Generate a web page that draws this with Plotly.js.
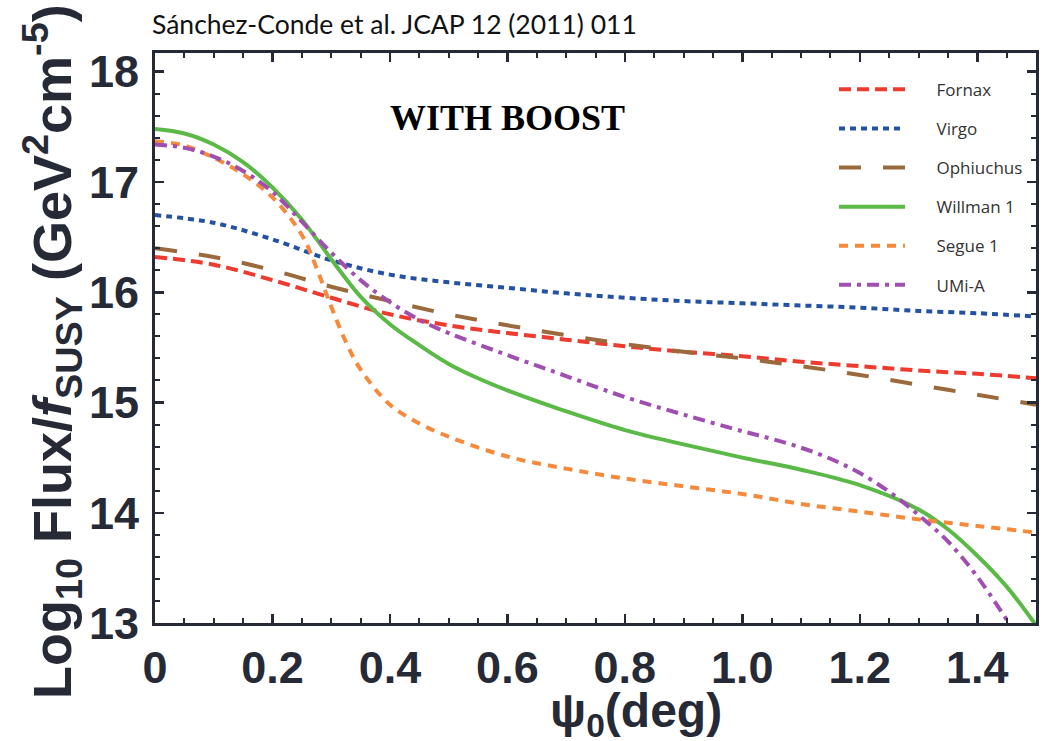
<!DOCTYPE html>
<html>
<head>
<meta charset="utf-8">
<script src="https://cdn.plot.ly/plotly-3.0.1.min.js"></script>
<style>html,body{margin:0;padding:0;background:#fff;}#chart{width:1048px;height:741px;}</style>
</head>
<body>
<div id="chart"></div>
<script>
// ---- data ----
const psiFornax = [0, 0.1, 0.2, 0.3, 0.4, 0.5, 0.6, 0.7, 0.8, 0.9, 1.0, 1.1, 1.2, 1.3, 1.4, 1.5];
const fluxFornax = [16.32, 16.25, 16.11, 15.95, 15.80, 15.70, 15.63, 15.57, 15.51, 15.46, 15.42, 15.37, 15.33, 15.29, 15.26, 15.22];

const psiVirgo = [0, 0.1, 0.2, 0.3, 0.4, 0.5, 0.6, 0.7, 0.8, 0.9, 1.0, 1.1, 1.2, 1.3, 1.4, 1.5];
const fluxVirgo = [16.70, 16.63, 16.48, 16.29, 16.16, 16.09, 16.04, 15.99, 15.95, 15.92, 15.90, 15.88, 15.86, 15.83, 15.81, 15.78];

const psiOphiuchus = [0, 0.1, 0.2, 0.3, 0.4, 0.5, 0.6, 0.7, 0.8, 0.9, 1.0, 1.1, 1.2, 1.3, 1.4, 1.5];
const fluxOphiuchus = [16.40, 16.32, 16.20, 16.05, 15.92, 15.80, 15.70, 15.61, 15.53, 15.46, 15.40, 15.33, 15.25, 15.16, 15.07, 14.98];

const psiWillman = [0, 0.05, 0.1, 0.15, 0.2, 0.25, 0.3, 0.35, 0.4, 0.45, 0.5, 0.55, 0.6, 0.7, 0.8, 0.9, 1.0, 1.1, 1.2, 1.3, 1.35, 1.4, 1.45, 1.5];
const fluxWillman = [17.48, 17.44, 17.34, 17.18, 16.95, 16.66, 16.30, 15.96, 15.71, 15.52, 15.35, 15.22, 15.11, 14.92, 14.75, 14.62, 14.50, 14.39, 14.25, 14.03, 13.85, 13.61, 13.33, 12.98];

const psiSegue = [0, 0.05, 0.1, 0.15, 0.2, 0.25, 0.275, 0.3, 0.325, 0.35, 0.4, 0.45, 0.5, 0.6, 0.7, 0.8, 0.9, 1.0, 1.1, 1.2, 1.3, 1.4, 1.5];
const fluxSegue = [17.37, 17.33, 17.22, 17.07, 16.86, 16.52, 16.22, 15.87, 15.55, 15.30, 14.98, 14.81, 14.69, 14.51, 14.40, 14.31, 14.24, 14.17, 14.08, 14.01, 13.94, 13.88, 13.82];

const psiUMi = [0, 0.05, 0.1, 0.15, 0.2, 0.25, 0.3, 0.35, 0.4, 0.45, 0.5, 0.6, 0.7, 0.8, 0.9, 1.0, 1.05, 1.1, 1.15, 1.2, 1.25, 1.3, 1.35, 1.4, 1.45];
const fluxUMi = [17.34, 17.31, 17.23, 17.10, 16.91, 16.64, 16.36, 16.11, 15.91, 15.75, 15.63, 15.43, 15.24, 15.05, 14.89, 14.74, 14.67, 14.59, 14.49, 14.36, 14.19, 13.98, 13.74, 13.42, 13.03];

const xTickVals = [0, 0.2, 0.4, 0.6, 0.8, 1.0, 1.2, 1.4];
const xTickText = ['0', '0.2', '0.4', '0.6', '0.8', '1.0', '1.2', '1.4'];
const yTickVals = [13, 14, 15, 16, 17, 18];

// ---- styling ----
const ink = '#262a36';
const pad = '\u00a0\u00a0\u00a0\u00a0\u00a0\u00a0';
function tr(name, x, y, color, dash, width) {
  return {
    type: 'scatter', mode: 'lines', name: pad + name, x: x, y: y,
    legendgroup: name,
    line: {color: color, width: width, dash: dash, shape: 'spline', smoothing: 1},
    hoverinfo: 'skip'
  };
}
const data = [
  tr('Fornax', psiFornax, fluxFornax, '#ee3b30', '12px,6px', 4),
  tr('Virgo', psiVirgo, fluxVirgo, '#2452a3', '6px,5px', 4),
  tr('Ophiuchus', psiOphiuchus, fluxOphiuchus, '#9b6a3c', '22px,22px', 4),
  tr('Willman 1', psiWillman, fluxWillman, '#5bb947', 'solid', 4),
  tr('Segue 1', psiSegue, fluxSegue, '#f68a3c', '9px,7px', 4),
  tr('UMi-A', psiUMi, fluxUMi, '#a04fb0', '12px,6px,4px,6px', 4)
];

const axisCommon = {
  showgrid: false, zeroline: false,
  showline: true, linecolor: ink, linewidth: 3, mirror: 'allticks',
  ticks: 'inside', tickcolor: ink, tickwidth: 2.5, ticklen: 9,
  tickfont: {family: 'Liberation Sans, Arial, sans-serif', size: 45, color: ink, weight: 'bold'}
};

const layout = {
  width: 1048, height: 741,
  paper_bgcolor: '#ffffff', plot_bgcolor: '#ffffff',
  margin: {l: 155, r: 12, t: 53, b: 118},
  showlegend: true,
  title: {
    text: 'Sánchez-Conde et al. JCAP 12 (2011) 011',
    x: 152/1048, xanchor: 'left', xref: 'container',
    y: 1 - 25/741, yanchor: 'middle', yref: 'container',
    font: {family: 'Lato, sans-serif', size: 26.5, color: '#111'}
  },
  xaxis: Object.assign({}, axisCommon, {
    range: [0, 1.5],
    tickvals: xTickVals, ticktext: xTickText,
    ticklabelstandoff: 3,
    minor: {dtick: 0.05, ticks: 'inside', ticklen: 5, tickwidth: 2, tickcolor: ink}
  }),
  yaxis: Object.assign({}, axisCommon, {
    range: [13, 18.17],
    tickvals: yTickVals,
    ticklabelstandoff: 4,
    minor: {dtick: 0.2, ticks: 'inside', ticklen: 5, tickwidth: 2, tickcolor: ink}
  }),
  legend: {
    x: (834-155)/881, xanchor: 'left', y: 0.967, yanchor: 'top',
    bgcolor: 'rgba(0,0,0,0)', borderwidth: 0,
    traceorder: 'grouped', tracegroupgap: 14,
    itemwidth: 66,
    font: {family: 'Open Sans, sans-serif', size: 17, color: '#333'}
  },
  annotations: [{
    text: '<b>WITH BOOST</b>', xref: 'paper', yref: 'paper',
    x: (507-155)/881, y: (623-118)/570, xanchor: 'center', yanchor: 'middle',
    showarrow: false,
    font: {family: 'Liberation Serif, Times New Roman, serif', size: 36, color: '#000'}
  }, {
    text: '<b>ψ<sub>0</sub>(deg)</b>', xref: 'paper', yref: 'paper',
    x: (636-155)/881, y: (623-714)/570, xanchor: 'center', yanchor: 'middle',
    showarrow: false,
    font: {family: 'Liberation Sans, Arial, sans-serif', size: 48, color: ink}
  }, {
    text: '<b>Log<sub>10</sub> Flux/<i>f</i><sub>SUSY</sub> (GeV<sup>2</sup>cm<sup>-5</sup>)</b>',
    xref: 'paper', yref: 'paper', textangle: -90,
    x: (52-155)/881, y: (623-352)/570, xanchor: 'center', yanchor: 'middle',
    showarrow: false,
    font: {family: 'Liberation Sans, Arial, sans-serif', size: 54, color: ink}
  }]
};

Plotly.newPlot('chart', data, layout, {displayModeBar: false, staticPlot: true});
</script>
</body>
</html>
